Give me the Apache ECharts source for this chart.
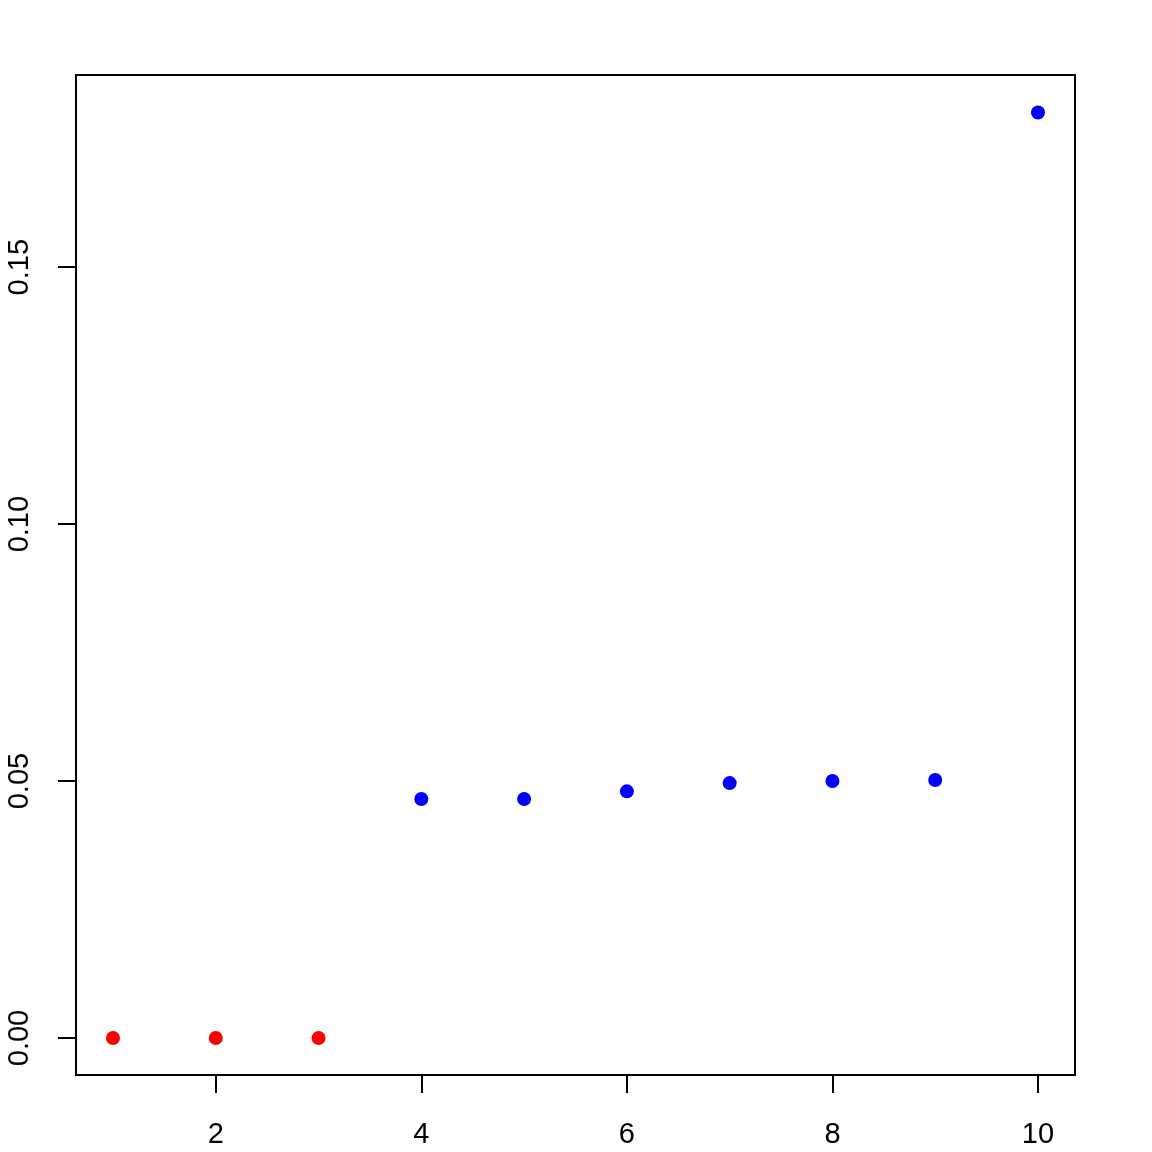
<!DOCTYPE html>
<html>
<head>
<meta charset="utf-8">
<script src="https://cdn.jsdelivr.net/npm/echarts@6/dist/echarts.min.js"></script>
<style>html,body{margin:0;padding:0;background:#fff}#c{width:1152px;height:1152px}</style>
</head>
<body>
<div id="c"></div>
<script>
const redX = [1, 2, 3];
const redY = [0, 0, 0];
const blueX = [4, 5, 6, 7, 8, 9, 10];
const blueY = [0.0465, 0.0465, 0.0480, 0.0496, 0.0500, 0.0502, 0.1801];
const xTicks = [2, 4, 6, 8, 10];
const yTicks = [0, 0.05, 0.10, 0.15];
const yTickLabels = ['0.00', '0.05', '0.10', '0.15'];

const chart = echarts.init(document.getElementById('c'), null, {renderer: 'canvas'});
const font = 'Liberation Sans, Arial, sans-serif';
chart.setOption({
  animation: false,
  backgroundColor: '#fff',
  grid: {left: 76, right: 77, top: 75, bottom: 77, show: true, borderColor: '#000', borderWidth: 2, backgroundColor: 'transparent'},
  xAxis: {
    type: 'value', min: 0.64, max: 10.36,
    splitLine: {show: false},
    axisLine: {show: true, onZero: false, lineStyle: {color: '#000', width: 2}},
    axisTick: {show: true, length: 18, customValues: xTicks, lineStyle: {color: '#000', width: 2}},
    axisLabel: {customValues: xTicks, color: '#000', fontSize: 29, fontFamily: font, margin: 45}
  },
  yAxis: {
    type: 'value', min: -0.0072, max: 0.1874,
    splitLine: {show: false},
    axisLine: {show: true, onZero: false, lineStyle: {color: '#000', width: 2}},
    axisTick: {show: true, length: 18, customValues: yTicks, lineStyle: {color: '#000', width: 2}},
    axisLabel: {customValues: yTicks, rotate: 90, color: '#000', fontSize: 29, fontFamily: font, margin: 42,
      formatter: function (v) { const i = yTicks.findIndex(t => Math.abs(t - v) < 1e-9); return i >= 0 ? yTickLabels[i] : ''; }}
  },
  series: [
    {type: 'scatter', data: redX.map((x, i) => [x, redY[i]]), symbol: 'circle', symbolSize: 14, itemStyle: {color: '#FF0000', opacity: 1}},
    {type: 'scatter', data: blueX.map((x, i) => [x, blueY[i]]), symbol: 'circle', symbolSize: 14, itemStyle: {color: '#0000FF', opacity: 1}}
  ]
});
</script>
</body>
</html>
